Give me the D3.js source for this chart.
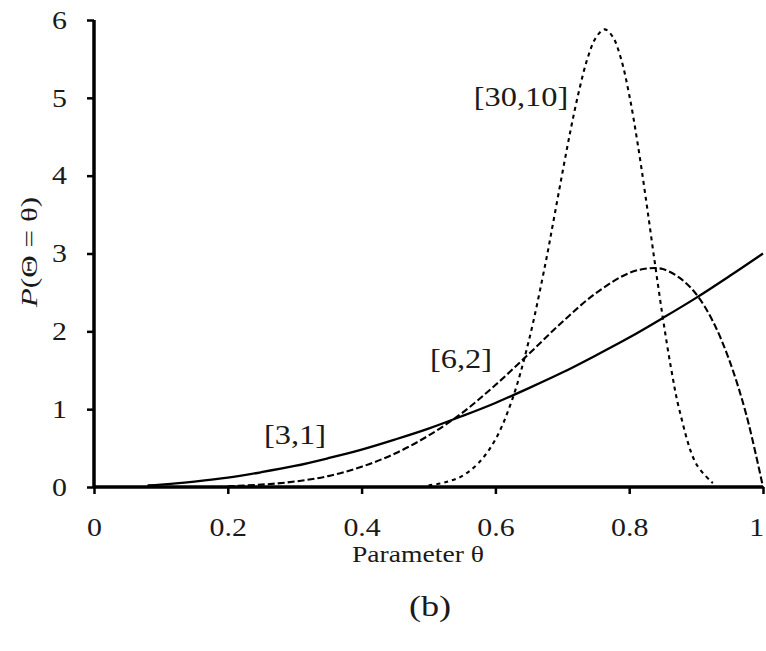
<!DOCTYPE html>
<html>
<head>
<meta charset="utf-8">
<script src="https://cdn.jsdelivr.net/npm/d3@7/dist/d3.min.js"></script>
<style>
  html, body { margin: 0; padding: 0; background: #fff; }
  svg { display: block; }
  text { font-family: "Liberation Serif", "Times New Roman", serif; fill: #1a1a1a; font-weight: 400; }
</style>
</head>
<body>
<svg id="chart" width="766" height="651"></svg>
<script>
// ---- data ----
const xTicks = [0, 0.2, 0.4, 0.6, 0.8, 1];
const xTickLabels = ["0", "0.2", "0.4", "0.6", "0.8", "1"];
const yTicks = [0, 1, 2, 3, 4, 5, 6];
const yTickLabels = ["0", "1", "2", "3", "4", "5", "6"];

const seriesNames = ["[3,1]", "[6,2]", "[30,10]"];

const theta31 = [0.08, 0.1, 0.15, 0.2, 0.25, 0.3, 0.35, 0.4, 0.45, 0.5, 0.55, 0.6, 0.65, 0.7, 0.75, 0.8, 0.85, 0.9, 0.95, 1.0];
const dens31  = [0.02, 0.03, 0.07, 0.12, 0.19, 0.27, 0.37, 0.48, 0.61, 0.75, 0.91, 1.08, 1.27, 1.47, 1.69, 1.92, 2.17, 2.43, 2.71, 3.0];

const theta62 = [0.2, 0.25, 0.3, 0.35, 0.4, 0.45, 0.5, 0.55, 0.6, 0.65, 0.7, 0.75, 0.8, 0.83, 0.85, 0.875, 0.9, 0.925, 0.95, 0.975, 1.0];
const dens62  = [0.01, 0.03, 0.07, 0.14, 0.26, 0.43, 0.66, 0.95, 1.31, 1.71, 2.12, 2.49, 2.75, 2.81, 2.80, 2.69, 2.48, 2.13, 1.62, 0.93, 0.0];

const theta3010 = [0.5, 0.525, 0.55, 0.575, 0.6, 0.625, 0.65, 0.675, 0.6875, 0.7, 0.7125, 0.725, 0.7375, 0.75, 0.763, 0.775, 0.7875, 0.8, 0.8125, 0.825, 0.8375, 0.85, 0.8625, 0.875, 0.9, 0.925];
const dens3010  = [0.02, 0.06, 0.14, 0.31, 0.61, 1.12, 1.88, 2.88, 3.45, 4.03, 4.59, 5.09, 5.50, 5.77, 5.88, 5.79, 5.51, 5.04, 4.42, 3.70, 2.93, 2.19, 1.53, 0.99, 0.30, 0.05];

// ---- layout ----
const svg = d3.select("#chart");
const x = d3.scaleLinear().domain([0, 1]).range([94, 763]);
const y = d3.scaleLinear().domain([0, 6]).range([487, 20]);
const SX = 1.15; // horizontal stretch of the reference's lettering

const line = d3.line()
  .x(d => x(d[0]))
  .y(d => y(d[1]))
  .curve(d3.curveCatmullRom.alpha(0.5));

const zip = (a, b) => a.map((v, i) => [v, b[i]]);

const series = [
  { name: seriesNames[0], pts: zip(theta31, dens31), dash: null, width: 2.3 },
  { name: seriesNames[1], pts: zip(theta62, dens62), dash: "7,3", width: 2.1 },
  { name: seriesNames[2], pts: zip(theta3010, dens3010), dash: "4,4", width: 2.1 }
];

svg.selectAll("path.series")
  .data(series)
  .join("path")
  .attr("class", "series")
  .attr("fill", "none")
  .attr("stroke", "#000")
  .attr("stroke-width", d => d.width)
  .attr("stroke-dasharray", d => d.dash)
  .attr("d", d => line(d.pts));

// ---- axes ----
const xAxis = d3.axisBottom(x)
  .tickValues(xTicks)
  .tickFormat((d, i) => xTickLabels[i])
  .tickSize(7)
  .tickPadding(24);
const gx = svg.append("g").attr("transform", `translate(0,${y(0)})`).call(xAxis);
gx.select(".domain").attr("stroke", "#000").attr("stroke-width", 3.5).attr("d", `M${x(0)},0H${x(1)}`);
gx.selectAll(".tick line").attr("stroke", "#000").attr("stroke-width", 2.5);
gx.selectAll(".tick text")
  .attr("font-size", 26)
  .attr("font-family", "Liberation Serif, Times New Roman, serif")
  .attr("fill", "#1a1a1a")
  .attr("transform", `scale(${SX},1)`);
gx.selectAll(".tick").filter(d => d === 1).select("text").attr("x", -6);

const yAxis = d3.axisLeft(y)
  .tickValues(yTicks)
  .tickFormat((d, i) => yTickLabels[i])
  .tickSize(7)
  .tickPadding(20);
const gy = svg.append("g").attr("transform", `translate(${x(0)},0)`).call(yAxis);
gy.select(".domain").attr("stroke", "#000").attr("stroke-width", 3.5).attr("d", `M0,${y(0)}V${y(6)}`);
gy.selectAll(".tick line").attr("stroke", "#000").attr("stroke-width", 2.5);
gy.selectAll(".tick text").each(function () {
  const t = d3.select(this);
  const tx = +t.attr("x");
  t.attr("x", 0)
   .attr("transform", `translate(${tx},0) scale(${SX},1)`)
   .attr("font-size", 26)
   .attr("font-family", "Liberation Serif, Times New Roman, serif")
   .attr("fill", "#1a1a1a");
});

// ---- series labels ----
const labelPos = [
  { t: seriesNames[0], x: 295, y: 444 },
  { t: seriesNames[1], x: 461, y: 368 },
  { t: seriesNames[2], x: 521, y: 106 }
];
svg.selectAll("text.lbl")
  .data(labelPos)
  .join("text")
  .attr("class", "lbl")
  .attr("transform", d => `translate(${d.x},${d.y}) scale(1.2,1)`)
  .attr("text-anchor", "middle")
  .attr("font-size", 27)
  .text(d => d.t);

// ---- axis titles ----
svg.append("text")
  .attr("transform", `translate(418,562) scale(${SX},1)`)
  .attr("text-anchor", "middle")
  .attr("font-size", 24)
  .text("Parameter θ");

svg.append("text")
  .attr("transform", "translate(430,616) scale(1.25,1)")
  .attr("text-anchor", "middle")
  .attr("font-size", 29)
  .text("(b)");

const yt = svg.append("text")
  .attr("transform", "translate(37,252) rotate(-90) scale(1.3,1)")
  .attr("text-anchor", "middle")
  .attr("font-size", 24);
yt.append("tspan").attr("font-style", "italic").text("P");
yt.append("tspan").text("(Θ = θ)");
</script>
</body>
</html>
